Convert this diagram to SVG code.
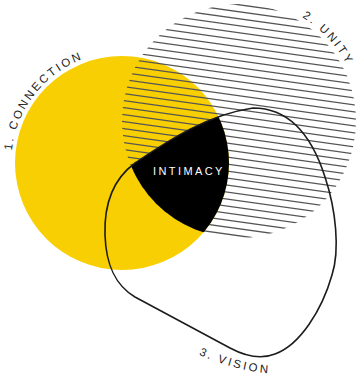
<svg xmlns="http://www.w3.org/2000/svg" width="358" height="376" viewBox="0 0 358 376">
<style>
.lbl{font-family:"Liberation Sans",Arial,sans-serif;font-size:11.5px;letter-spacing:2.5px;fill:#222}
.hatch{stroke:#555;stroke-width:1.4;fill:none}
.outline{fill:none;stroke:#1c1c1c;stroke-width:1.6;stroke-linejoin:round}
</style>
<defs>
<clipPath id="unityClip"><circle cx="239" cy="121" r="117"/></clipPath>
<clipPath id="visionClip"><path id="visionShape" d="M253,108 C285,108 310,130 325,177 C336,210 340,250 332,275 C322,310 300,345 275,354 C260,360 245,356 230,348 L135,297 C115,285 106,265 105,235 C104,205 112,180 135,163 C165,143 205,115 253,108 Z"/></clipPath>
<path id="arcConnection" d="M12.7,182.3 A111.5,111.5 0 0 1 141.3,53.2"/>
<path id="arcUnity" d="M260.1,1.3 A121.5,121.5 0 0 1 358.6,99.9"/>
<path id="arcVision" d="M195,353 C215,362 245,373 275,373.5"/>
</defs>
<g id="connection">
<circle cx="122" cy="163" r="107" fill="#F8CF02"/>
<text class="lbl"><textPath href="#arcConnection" startOffset="32">1. CONNECTION</textPath></text>
</g>
<g id="unity">
<g clip-path="url(#unityClip)">
<path class="hatch" d="M100,-21.7L370,16.1M100,-14.7L370,23.1M100,-7.7L370,30.1M100,-0.7L370,37.1M100,6.3L370,44.1M100,13.3L370,51.1M100,20.3L370,58.1M100,27.3L370,65.1M100,34.3L370,72.1M100,41.3L370,79.1M100,48.3L370,86.1M100,55.3L370,93.1M100,62.3L370,100.1M100,69.3L370,107.1M100,76.3L370,114.1M100,83.3L370,121.1M100,90.3L370,128.1M100,97.3L370,135.1M100,104.3L370,142.1M100,111.3L370,149.1M100,118.3L370,156.1M100,125.3L370,163.1M100,132.3L370,170.1M100,139.3L370,177.1M100,146.3L370,184.1M100,153.3L370,191.1M100,160.3L370,198.1M100,167.3L370,205.1M100,174.3L370,212.1M100,181.3L370,219.1M100,188.3L370,226.1M100,195.3L370,233.1M100,202.3L370,240.1M100,209.3L370,247.1M100,216.3L370,254.1M100,223.3L370,261.1"/>
</g>
<text class="lbl"><textPath href="#arcUnity" startOffset="45">2. UNITY</textPath></text>
</g>
<g id="intimacy">
<g clip-path="url(#unityClip)">
<circle cx="122" cy="163" r="107" fill="#000" clip-path="url(#visionClip)"/>
</g>
<text x="153" y="175" font-family="Liberation Sans, Arial, sans-serif" font-size="11" letter-spacing="2.4" fill="#fff">INTIMACY</text>
</g>
<g id="vision">
<path class="outline" d="M253,108 C285,108 310,130 325,177 C336,210 340,250 332,275 C322,310 300,345 275,354 C260,360 245,356 230,348 L135,297 C115,285 106,265 105,235 C104,205 112,180 135,163 C165,143 205,115 253,108 Z"/>
<text class="lbl"><textPath href="#arcVision" startOffset="4">3. VISION</textPath></text>
</g>
</svg>
